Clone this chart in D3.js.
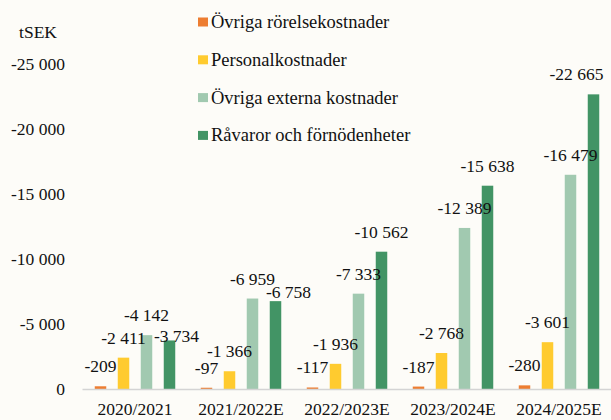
<!DOCTYPE html>
<html>
<head>
<meta charset="utf-8">
<script src="https://cdn.jsdelivr.net/npm/d3@7"></script>
</head>
<body style="margin:0;padding:0;background:#fdfcf8">
<div id="chart"></div>
<script>
// data (tSEK, costs as negatives)
var years = ["2020/2021", "2021/2022E", "2022/2023E", "2023/2024E", "2024/2025E"];
var series = ["Övriga rörelsekostnader", "Personalkostnader", "Övriga externa kostnader", "Råvaror och förnödenheter"];
var ovrigaRorelse = [-209, -97, -117, -187, -280];
var personal = [-2411, -1366, -1936, -2768, -3601];
var ovrigaExterna = [-4142, -6959, -7333, -12389, -16479];
var ravaror = [-3734, -6758, -10562, -15638, -22665];
var yTicks = [0, -5000, -10000, -15000, -20000, -25000];

var colors = ["#ed7d31", "#ffcb2f", "#a1c9b0", "#429465"];
// hand-moved data labels in the original: [series, year, dx, dy]
var labelNudge = [[3, 0, 7, 16], [3, 1, 13, 11], [3, 4, -17, 0]];

var values = [ovrigaRorelse, personal, ovrigaExterna, ravaror];

var FONT = "'Liberation Serif', 'Times New Roman', serif";
var svgWidth = 611, svgHeight = 420;
var svg = d3.select("#chart").append("svg")
  .attr("width", svgWidth)
  .attr("height", svgHeight)
  .style("display", "block");

var se = d3.formatLocale({decimal: ",", thousands: " ", grouping: [3], currency: ["", " kr"], minus: "-"});
var fmt = se.format(",d");

var x = d3.scaleBand().domain(years).range([82, 612]).padding(0);
var xs = d3.scaleBand().domain(d3.range(series.length)).range([7, 99]).paddingInner(0.5).paddingOuter(0.25);
var y = d3.scaleLinear().domain([0, -25000]).range([389, 64]);

// y axis labels (no line, no ticks)
var yAxis = d3.axisLeft(y).tickValues(yTicks).tickFormat(fmt).tickSize(0).tickPadding(0);
var gy = svg.append("g").attr("transform", "translate(65,0)").call(yAxis);
gy.select(".domain").remove();
gy.attr("font-family", null).attr("font-size", null);

svg.append("text")
  .attr("x", 38).attr("y", 38)
  .attr("text-anchor", "middle")
  .text("tSEK");

// bars
var rows = [];
values.forEach(function(arr, s) {
  arr.forEach(function(v, i) {
    rows.push({s: s, i: i, v: v});
  });
});

svg.append("g").selectAll("rect")
  .data(rows)
  .enter()
  .append("rect")
  .attr("x", d => x(years[d.i]) + xs(d.s))
  .attr("width", xs.bandwidth())
  .attr("y", d => y(d.v))
  .attr("height", d => y(0) - y(d.v))
  .attr("fill", d => colors[d.s]);

// x axis line + labels
var xAxis = d3.axisBottom(x).tickSize(0).tickPadding(14);
var gx = svg.append("g").attr("transform", "translate(0," + y(0) + ")").call(xAxis);
gx.attr("font-family", null).attr("font-size", null);
gx.select(".domain").attr("stroke", "#d4d4d4").attr("stroke-width", 1.5);

// data labels
function nudge(d) {
  var n = labelNudge.find(k => k[0] === d.s && k[1] === d.i);
  return n ? [n[2], n[3]] : [0, 0];
}
svg.append("g").selectAll("text")
  .data(rows)
  .enter()
  .append("text")
  .attr("x", d => x(years[d.i]) + xs(d.s) + xs.bandwidth() / 2 + nudge(d)[0])
  .attr("y", d => y(d.v) - 14 + nudge(d)[1])
  .attr("text-anchor", "middle")
  .text(d => fmt(d.v));

// legend
var legend = svg.append("g").selectAll("g")
  .data(series)
  .enter()
  .append("g")
  .attr("transform", (d, i) => "translate(198," + (22 + i * 37.8) + ")");
legend.append("rect")
  .attr("x", 0).attr("y", -4.5)
  .attr("width", 10).attr("height", 9)
  .attr("fill", (d, i) => colors[i]);
legend.append("text")
  .attr("class", "leg")
  .attr("x", 13).attr("y", 6)
  .text(d => d);

// all texts: serif, black
svg.selectAll("text")
  .style("font-family", FONT)
  .style("font-size", "17.5px")
  .attr("fill", "#111");
svg.selectAll("text.leg").style("font-size", "18.5px");
</script>
</body>
</html>
